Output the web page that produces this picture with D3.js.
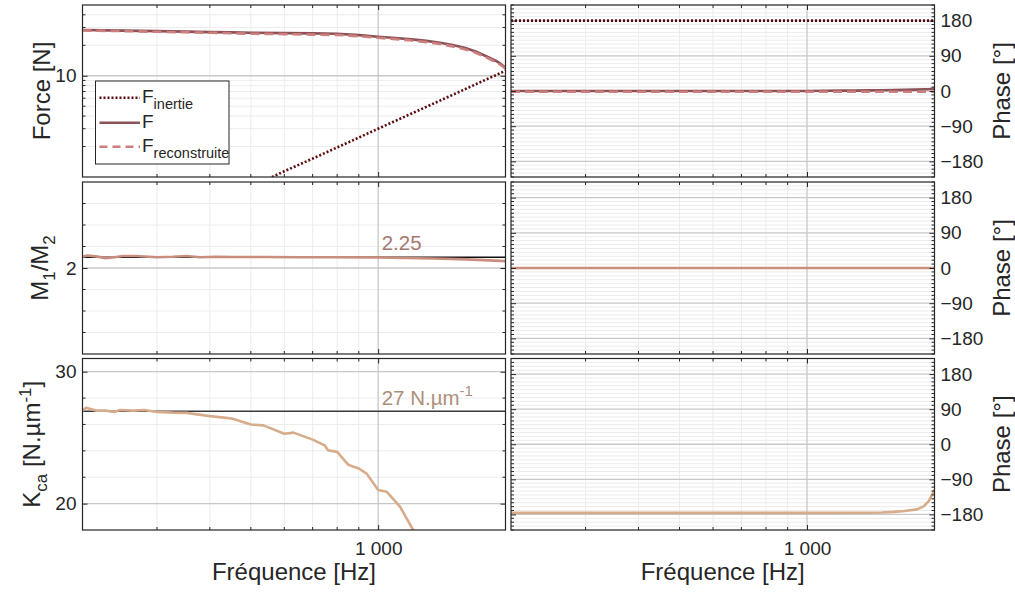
<!DOCTYPE html>
<html><head><meta charset="utf-8">
<script src="https://cdn.jsdelivr.net/npm/d3@7"></script>
<style>
body{margin:0;background:#fff}
svg{display:block}
text{font-family:"Liberation Sans",Arial,Helvetica,sans-serif;fill:#262626}
</style>
</head><body>
<svg id="c" width="1015" height="599"></svg>
<script>
// ---------------- data ----------------
const freqDomain = [200, 2000];
const xMajorTicks = [1000];
const xMinorTicks = [300, 400, 500, 600, 700, 800, 900];
const xTickLabels = ["1 000"];

// Force magnitude
const freqF = [200, 250, 300, 350, 400, 450, 500, 600, 700, 800, 900, 1000, 1100, 1200, 1300, 1400, 1500, 1600, 1700, 1800, 1900, 1950, 2000];
const forceF = [28.3, 27.9, 27.6, 27.3, 27.0, 26.8, 26.6, 26.4, 26.2, 26.0, 25.2, 24.3, 23.6, 22.9, 22.1, 21.2, 20.1, 18.9, 17.4, 15.6, 14.0, 13.1, 12.0];
const forceRec = [28.0, 27.6, 27.2, 26.9, 26.6, 26.3, 26.0, 25.8, 25.5, 25.3, 24.6, 23.7, 23.0, 22.3, 21.5, 20.6, 19.5, 18.3, 16.9, 15.2, 13.6, 12.8, 11.8];
const freqInertie = [550, 600, 700, 800, 900, 1000, 1200, 1400, 1600, 1800, 2000];
const forceInertie = [0.96, 1.14, 1.52, 1.96, 2.45, 3.0, 4.24, 5.68, 7.33, 9.18, 11.2];
// Force phase
const phaseF = [0, 0, 0, 0, 0, 0, 0, 0, 0, 0, 0, 0, 0.5, 1, 1, 1.5, 2, 2.5, 3, 3.5, 4.5, 5, 6];
const phaseRec = [-2, -2, -2, -2, -2, -2, -2, -2, -2, -2, -2, -2, -2, -2, -2, -2, -2, -2, -2, -2, -2, -2, -2];
const phaseInertie = [180, 180, 180, 180, 180, 180, 180, 180, 180, 180, 180, 180, 180, 180, 180, 180, 180, 180, 180, 180, 180, 180, 180];

// M1/M2 ratio
const freqM = [200, 205, 215, 227, 238, 249, 268, 300, 327, 352, 379, 414, 453, 544, 652, 782, 1000, 1350, 1620, 2000];
const ratioM = [2.26, 2.29, 2.27, 2.23, 2.25, 2.28, 2.28, 2.25, 2.26, 2.28, 2.25, 2.26, 2.255, 2.255, 2.25, 2.25, 2.245, 2.22, 2.2, 2.16];
const phaseM = [0, 0, 0, 0, 0, 0, 0, 0, 0, 0, 0, 0, 0, 0, 0, 0, 0, 0, 0, 0];
const refRatio = 2.25;

// Kca stiffness
const freqK = [200, 204, 215, 227, 238, 245, 264, 280, 300, 327, 352, 400, 437, 453, 500, 535, 600, 631, 700, 747, 761, 800, 849, 900, 939, 1000, 1047, 1126, 1210, 1250];
const stiffK = [27.06, 27.26, 27.05, 27.05, 26.95, 27.1, 27.05, 27.1, 26.95, 26.9, 26.88, 26.63, 26.5, 26.43, 26.0, 25.93, 25.3, 25.38, 24.85, 24.42, 24.05, 23.92, 22.95, 22.66, 22.28, 21.03, 20.9, 19.77, 18.0, 17.2];
const freqKPhase = [200, 500, 1000, 1386, 1500, 1600, 1700, 1818, 1885, 1937, 1974, 2000];
const phaseK = [-176, -176, -176, -175.8, -175, -173.5, -171.3, -167, -159.5, -146.7, -129.6, -116.8];
const refStiff = 27;

// axis ticks
const forceMajor = [10], forceMinor = [2, 3, 4, 5, 6, 7, 8, 9, 20, 30, 40];
const ratioMajor = [2], ratioMinor = [0.5, 1, 1.5, 2.5, 3, 3.5];
const stiffMajor = [20, 30], stiffMinor = [22, 24, 26, 28];
const phaseMajor = [-180, -90, 0, 90, 180];
const phaseMinor = d3.range(-220, 221, 10).filter(v => v % 90 !== 0);

// ---------------- layout ----------------
const svg = d3.select("#c");
const colL = [82.5, 505.5], colR = [511, 934.5];
const rows = [[5, 177], [182, 354], [358.5, 530]];
const C = {
  box: "#262626", gridMaj: "#c8c8c8", gridMin: "#ececec",
  F: "#8c5257", Frec: "#cd7f7d", Fin: "#5a0a0c", M: "#c98e7e", K: "#d6ac8a",
  t225: "#a57870", t27: "#ad8f78"
};
const TICK_FS = 19, TITLE_FS = 24;
let clipN = 0;

function panel(col, row, ys, o) {
  const xs = d3.scaleLog().domain(freqDomain).range(col);
  const g = svg.append("g");
  const id = "clip" + (clipN++);
  svg.append("clipPath").attr("id", id).append("rect")
    .attr("x", col[0]).attr("y", row[0]).attr("width", col[1] - col[0]).attr("height", row[1] - row[0]);
  // grid
  const gg = g.append("g");
  gg.selectAll(".hm").data(o.yMinor).join("line")
    .attr("x1", col[0]).attr("x2", col[1]).attr("y1", d => ys(d)).attr("y2", d => ys(d))
    .attr("stroke", C.gridMin).attr("stroke-width", 1);
  gg.selectAll(".vm").data(xMinorTicks).join("line")
    .attr("y1", row[0]).attr("y2", row[1]).attr("x1", d => xs(d)).attr("x2", d => xs(d))
    .attr("stroke", C.gridMin).attr("stroke-width", 1);
  gg.selectAll(".hM").data(o.yMajor).join("line")
    .attr("x1", col[0]).attr("x2", col[1]).attr("y1", d => ys(d)).attr("y2", d => ys(d))
    .attr("stroke", C.gridMaj).attr("stroke-width", 1.3);
  gg.selectAll(".vM").data(xMajorTicks).join("line")
    .attr("y1", row[0]).attr("y2", row[1]).attr("x1", d => xs(d)).attr("x2", d => xs(d))
    .attr("stroke", C.gridMaj).attr("stroke-width", 1.3);
  const plot = g.append("g").attr("clip-path", `url(#${id})`);
  // minor ticks
  const tk = g.append("g").attr("stroke", C.box).attr("stroke-width", 1);
  o.yMinor.forEach(v => {
    tk.append("line").attr("x1", col[0]).attr("x2", col[0] + 3).attr("y1", ys(v)).attr("y2", ys(v));
    tk.append("line").attr("x1", col[1]).attr("x2", col[1] - 3).attr("y1", ys(v)).attr("y2", ys(v));
  });
  xMinorTicks.forEach(v => {
    tk.append("line").attr("y1", row[0]).attr("y2", row[0] + 3).attr("x1", xs(v)).attr("x2", xs(v));
    tk.append("line").attr("y1", row[1]).attr("y2", row[1] - 3).attr("x1", xs(v)).attr("x2", xs(v));
  });
  // major ticks via d3 axes
  const yl = d3.axisLeft(ys).tickValues(o.yMajor).tickSize(-5).tickPadding(6).tickFormat(d3.format("d"));
  const yr = d3.axisRight(ys).tickValues(o.yMajor).tickSize(-5).tickPadding(6).tickFormat(d3.format("d"));
  const aL = g.append("g").attr("transform", `translate(${col[0]},0)`).call(yl);
  const aR = g.append("g").attr("transform", `translate(${col[1]},0)`).call(yr);
  if (o.labelSide === "left") aR.selectAll("text").remove(); else aL.selectAll("text").remove();
  const xb = d3.axisBottom(xs).tickValues(xMajorTicks).tickSize(-5).tickPadding(12).tickFormat((d, i) => xTickLabels[i]);
  const xt = d3.axisTop(xs).tickValues(xMajorTicks).tickSize(-5).tickFormat("");
  const aB = g.append("g").attr("transform", `translate(0,${row[1]})`).call(xb);
  g.append("g").attr("transform", `translate(0,${row[0]})`).call(xt);
  if (!o.xLabels) aB.selectAll("text").remove();
  g.selectAll(".domain").remove();
  g.selectAll(".tick line").attr("stroke", C.box);
  g.selectAll(".tick text").attr("font-size", TICK_FS).attr("fill", "#262626")
    .style("font-family", '"Liberation Sans",Arial,sans-serif');
  // box
  g.append("rect").attr("x", col[0]).attr("y", row[0]).attr("width", col[1] - col[0]).attr("height", row[1] - row[0])
    .attr("fill", "none").attr("stroke", C.box).attr("stroke-width", 1.2);
  return {xs, ys, plot, g};
}

function drawLine(p, fx, fy, color, w, dash) {
  const line = d3.line().x((d, i) => p.xs(fx[i])).y((d, i) => p.ys(fy[i]));
  p.plot.append("path").datum(fy).attr("d", line).attr("fill", "none")
    .attr("stroke", color).attr("stroke-width", w).attr("stroke-dasharray", dash || null)
    .attr("stroke-linejoin", "round");
}
function drawRef(p, v, color, w) {
  p.plot.append("line").attr("x1", p.xs(freqDomain[0])).attr("x2", p.xs(freqDomain[1]))
    .attr("y1", p.ys(v)).attr("y2", p.ys(v)).attr("stroke", color).attr("stroke-width", w);
}

// ---------------- row 1: Force ----------------
const yForce = d3.scaleLog().domain([1, 50]).range([rows[0][1], rows[0][0]]);
const pF = panel(colL, rows[0], yForce, {yMajor: forceMajor, yMinor: forceMinor, labelSide: "left"});
drawLine(pF, freqInertie, forceInertie, C.Fin, 2.6, "2,2");
drawLine(pF, freqF, forceF, C.F, 2.6);
drawLine(pF, freqF, forceRec, C.Frec, 2.6, "9,5");

const yPh = r => d3.scaleLinear().domain([-220, 220]).range([r[1], r[0]]);
const pFp = panel(colR, rows[0], yPh(rows[0]), {yMajor: phaseMajor, yMinor: phaseMinor, labelSide: "right"});
drawLine(pFp, freqF, phaseInertie, C.Fin, 2.6, "2,2");
drawLine(pFp, freqF, phaseF, C.F, 2.6);
drawLine(pFp, freqF, phaseRec, C.Frec, 2.6, "9,5");

// legend
const legendItems = [
  {main: "F", sub: "inertie", color: C.Fin, dash: "2,2"},
  {main: "F", sub: "", color: C.F, dash: null},
  {main: "F", sub: "reconstruite", color: C.Frec, dash: "8,5"}
];
const legRowsY = [97.7, 122.7, 146.7];
const lg = svg.append("g");
lg.append("rect").attr("x", 95.5).attr("y", 81).attr("width", 133.5).attr("height", 83)
  .attr("fill", "#fff").attr("stroke", C.box).attr("stroke-width", 1);
legendItems.forEach((it, i) => {
  const y = legRowsY[i];
  lg.append("line").attr("x1", 99.5).attr("x2", 140).attr("y1", y).attr("y2", y)
    .attr("stroke", it.color).attr("stroke-width", 2.6).attr("stroke-dasharray", it.dash);
  const t = lg.append("text").attr("x", 142).attr("y", y + 5).attr("font-size", 19);
  t.append("tspan").text(it.main);
  if (it.sub) t.append("tspan").attr("dy", 6).attr("font-size", 14.5).text(it.sub);
});

// ---------------- row 2: M1/M2 ----------------
const yRatio = d3.scaleLinear().domain([0, 4]).range([rows[1][1], rows[1][0]]);
const pM = panel(colL, rows[1], yRatio, {yMajor: ratioMajor, yMinor: ratioMinor, labelSide: "left"});
drawRef(pM, refRatio, "#111", 1.3);
drawLine(pM, freqM, ratioM, C.M, 2.6);
svg.append("text").attr("x", pM.xs(1000) + 3.5).attr("y", 250).attr("font-size", 20.5)
  .style("fill", C.t225).text(String(refRatio));

const pMp = panel(colR, rows[1], yPh(rows[1]), {yMajor: phaseMajor, yMinor: phaseMinor, labelSide: "right"});
drawLine(pMp, freqM, phaseM, C.M, 2.6);

// ---------------- row 3: Kca ----------------
const yStiff = d3.scaleLinear().domain([18, 31]).range([rows[2][1], rows[2][0]]);
const pK = panel(colL, rows[2], yStiff, {yMajor: stiffMajor, yMinor: stiffMinor, labelSide: "left", xLabels: true});
drawRef(pK, refStiff, "#3a3a3a", 1.6);
drawLine(pK, freqK, stiffK, C.K, 2.6);
const t27 = svg.append("text").attr("x", pK.xs(1000) + 3.5).attr("y", 405).attr("font-size", 20.5).style("fill", C.t27);
t27.append("tspan").text(refStiff + " N.µm");
t27.append("tspan").attr("dy", -9).attr("font-size", 15).text("-1");

const pKp = panel(colR, rows[2], yPh(rows[2]), {yMajor: phaseMajor, yMinor: phaseMinor, labelSide: "right", xLabels: true});
drawLine(pKp, freqKPhase, phaseK, C.K, 2.6);

// ---------------- axis titles ----------------
function yTitle(x, y, parts, rot) {
  const t = svg.append("text").attr("transform", `translate(${x},${y}) rotate(${rot})`)
    .attr("text-anchor", "middle").attr("font-size", TITLE_FS);
  parts.forEach(p => {
    const s = t.append("tspan").text(p.t);
    if (p.dy) s.attr("dy", p.dy);
    if (p.fs) s.attr("font-size", p.fs);
  });
}
yTitle(50, (rows[0][0] + rows[0][1]) / 2, [{t: "Force [N]"}], -90);
yTitle(48, (rows[1][0] + rows[1][1]) / 2, [{t: "M"}, {t: "1", dy: 7, fs: 17}, {t: "/M", dy: -7}, {t: "2", dy: 7, fs: 17}], -90);
yTitle(40, (rows[2][0] + rows[2][1]) / 2, [{t: "K"}, {t: "ca", dy: 7, fs: 17}, {t: " [N.µm", dy: -7}, {t: "-1", dy: -9, fs: 17}, {t: "]", dy: 9}], -90);
rows.forEach(r => yTitle(1010, (r[0] + r[1]) / 2, [{t: "Phase [°]"}], -90));

[colL, colR].forEach(c => {
  svg.append("text").attr("x", (c[0] + c[1]) / 2).attr("y", 580).attr("text-anchor", "middle")
    .attr("font-size", TITLE_FS).text("Fréquence [Hz]");
});
</script>
</body></html>
